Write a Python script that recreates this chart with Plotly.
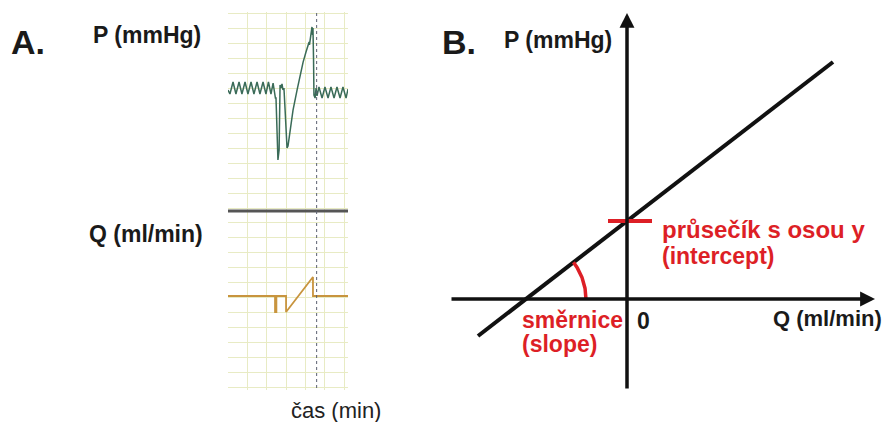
import numpy as np
import plotly.graph_objects as go

W, H = 886, 422

# ---- Panel A: recorded pressure and flow (time in grid divisions) ----
p_time = [0, 0.10, 0.26, 0.41, 0.57, 0.72, 0.88, 1.03, 1.19, 1.34, 1.50, 1.65,
          1.81, 1.96, 2.09, 2.22, 2.33, 2.40, 2.45, 2.48, 2.53, 2.58, 2.64, 2.66,
          2.69, 2.74, 2.79, 2.84, 2.89, 2.95, 3.00, 3.05, 3.10, 3.20, 3.36, 3.57,
          3.72, 3.88, 4.03, 4.13, 4.19, 4.21, 4.24, 4.29, 4.34, 4.37, 4.39, 4.42,
          4.44, 4.50, 4.55, 4.60, 4.70, 4.86, 5.01, 5.17, 5.32, 5.48, 5.63, 5.79,
          5.94, 6.10, 6.20]
p_value = [-0.13, -0.40, 0.40, -0.40, 0.40, -0.40, 0.40, -0.40, 0.40, -0.40, 0.40, -0.40,
           0.40, -0.40, 0.40, -0.40, 0.33, -0.53, -0.67, -0.67, -3.47, -4.80, -4.13, -1.47,
           0.20, 0.00, 0.27, -0.13, 0.00, -1.47, -3.13, -4.00, -3.87, -2.80, -1.47, -0.13,
           0.87, 1.73, 2.40, 2.87, 3.07, 2.87, 3.20, 3.87, 4.07, 3.53, 4.00, 1.87,
           -0.47, -0.67, 0.00, -0.53, 0.07, -0.67, 0.07, -0.67, 0.07, -0.67, 0.07, -0.67,
           0.07, -0.67, -0.07]

q_time = [0, 2.43, 2.43, 2.50, 2.50, 3.00, 3.00, 4.39, 4.39, 6.20]
q_value = [0, 0, -1.07, -1.07, 0, 0, -1.07, 1.27, 0, 0]

event_time = 4.58  # dotted time marker

# ---- Panel B: linear P-Q relation ----
intercept = 78.0
slope = 0.772
q_line = [-149.0, 206.0]

RED = "#dd1f26"
FONT = "Liberation Sans, Arial, sans-serif"
GRID = "#e8ebc4"


def px(x):
    return x / W


def py(y):
    return 1 - y / H


fig = go.Figure()

fig.add_trace(go.Scatter(x=p_time, y=p_value, mode="lines",
                         line=dict(color="#3a6b58", width=1.5),
                         xaxis="x", yaxis="y", hoverinfo="skip"))
fig.add_trace(go.Scatter(x=q_time, y=q_value, mode="lines",
                         line=dict(color="#c8943e", width=1.8),
                         xaxis="x2", yaxis="y2", hoverinfo="skip"))

# regression line
p_line = [intercept + slope * q for q in q_line]
fig.add_trace(go.Scatter(x=q_line, y=p_line, mode="lines",
                         line=dict(color="#111111", width=4),
                         xaxis="x3", yaxis="y3", hoverinfo="skip"))
# intercept tick
fig.add_trace(go.Scatter(x=[-19, 25], y=[intercept, intercept], mode="lines",
                         line=dict(color=RED, width=4),
                         xaxis="x3", yaxis="y3", hoverinfo="skip"))
# slope angle arc at the x-intercept
q0 = -intercept / slope
ang = np.linspace(0, np.arctan(slope), 40)
r = 60
fig.add_trace(go.Scatter(x=q0 + r * np.cos(ang), y=r * np.sin(ang), mode="lines",
                         line=dict(color=RED, width=3.5),
                         xaxis="x3", yaxis="y3", hoverinfo="skip"))

axA = dict(showticklabels=False, ticks="", zeroline=False, showgrid=True,
           gridcolor=GRID, gridwidth=1, dtick=1, fixedrange=True)

layout = dict(
    width=W, height=H, margin=dict(l=0, r=0, t=0, b=0),
    paper_bgcolor="white", plot_bgcolor="rgba(0,0,0,0)", showlegend=False,
    xaxis=dict(axA, domain=[px(228), px(348)], range=[0, 6.2], tick0=0, anchor="y",
               showline=False),
    yaxis=dict(axA, domain=[py(210), py(12)], range=[-8.133, 5.067], tick0=0, anchor="x"),
    xaxis2=dict(axA, domain=[px(228), px(348)], range=[0, 6.2], tick0=0, anchor="y2"),
    yaxis2=dict(axA, domain=[py(390), py(212)], range=[-6.267, 5.6], tick0=-0.133,
                anchor="x2"),
    xaxis3=dict(domain=[px(440), 1], range=[-187, 259], visible=False, anchor="y3"),
    yaxis3=dict(domain=[0, 1], range=[-123, 299], visible=False, anchor="x3"),
)
fig.update_layout(**layout)

shapes = [
    # separator between pressure and flow channels
    dict(type="line", xref="paper", yref="paper", x0=px(228), x1=px(348),
         y0=py(211), y1=py(211), line=dict(color="#555555", width=3)),
    # dotted time marker
    dict(type="line", xref="x", yref="paper", x0=event_time, x1=event_time,
         y0=py(388), y1=py(12), line=dict(color="#5a6070", width=1, dash="dot")),
]
fig.update_layout(shapes=shapes)

ann = []


def label(text, x, y, size, color="#1a1a1a", bold=True, anchor="left"):
    t = f"<b>{text}</b>" if bold else text
    ann.append(dict(text=t, x=px(x), y=py(y), xref="paper", yref="paper",
                    xanchor=anchor, yanchor="middle", showarrow=False,
                    font=dict(family=FONT, size=size, color=color)))


label("A.", 9, 42, 34)
label("P (mmHg)", 91, 35, 23)
label("Q (ml/min)", 87, 234, 23)
label("čas (min)", 289, 410, 22, color="#222222", bold=False)
label("B.", 440, 42, 34)
label("P (mmHg)", 502, 40, 23)
label("průsečík s osou y", 660, 229, 24, color=RED)
label("(intercept)", 660, 256, 23, color=RED)
label("směrnice", 520, 320, 23, color=RED)
label("(slope)", 520, 344, 23, color=RED)
label("0", 635, 321, 23)
label("Q (ml/min)", 771, 318, 22)

# coordinate axes of panel B with arrowheads
ann.append(dict(x=248, y=0, ax=-177, ay=0, xref="x3", yref="y3", axref="x3", ayref="y3",
                showarrow=True, arrowhead=2, arrowsize=0.85, arrowwidth=3.5,
                arrowcolor="#111111", text=""))
ann.append(dict(x=0, y=286, ax=0, ay=-91, xref="x3", yref="y3", axref="x3", ayref="y3",
                showarrow=True, arrowhead=2, arrowsize=0.85, arrowwidth=3.5,
                arrowcolor="#111111", text=""))
fig.update_layout(annotations=ann)

fig.write_html("out.html")
